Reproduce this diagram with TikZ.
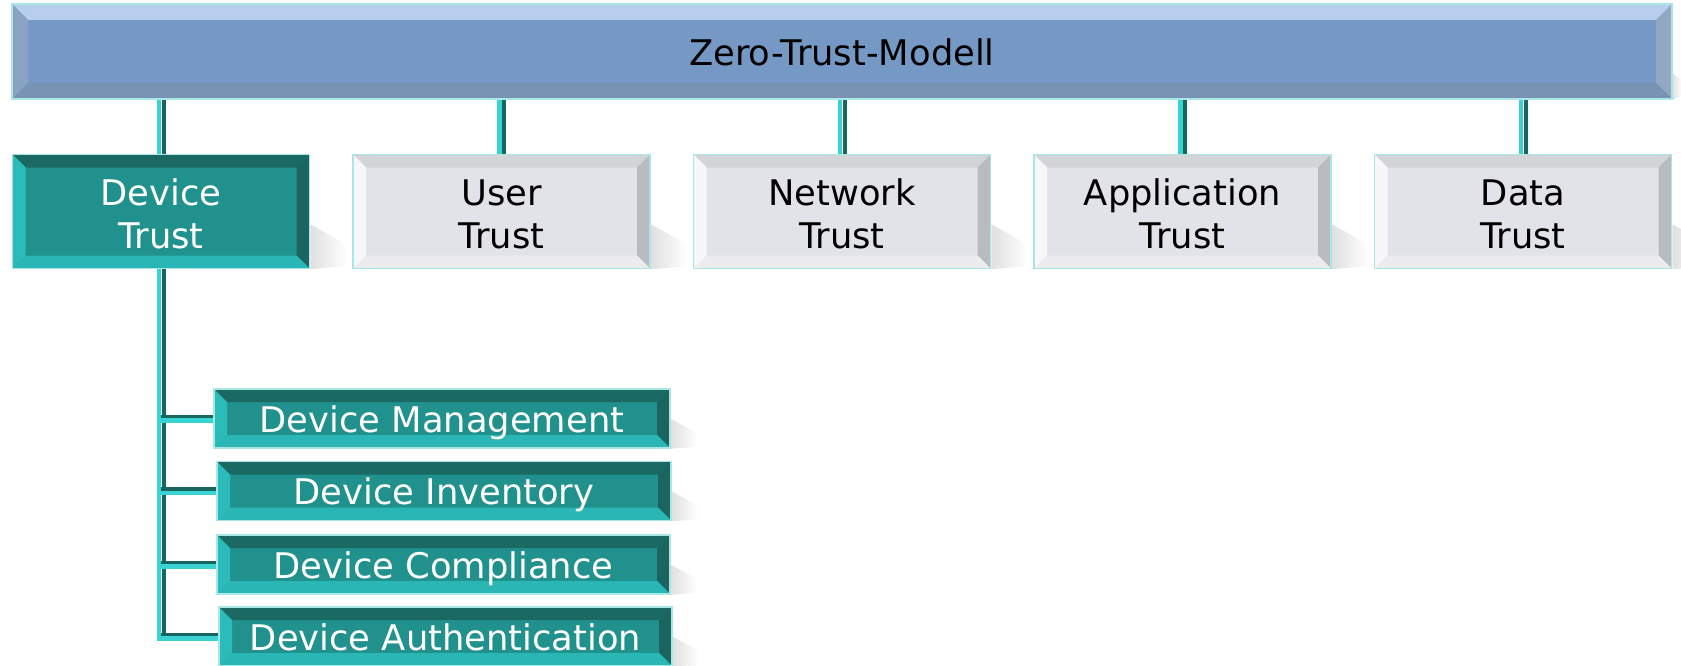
\documentclass[tikz,border=0pt]{standalone}
\usepackage{fontspec}
\setmainfont{DejaVu Sans}
\usetikzlibrary{fadings}
\definecolor{barFace}{HTML}{7599C4}
\definecolor{barTop}{HTML}{B7CFEC}
\definecolor{barLeft}{HTML}{8AA3C2}
\definecolor{barBot}{HTML}{7893B4}
\definecolor{barRight}{HTML}{92A7C0}
\definecolor{tealFace}{HTML}{21918E}
\definecolor{tealTop}{HTML}{1A6962}
\definecolor{tealLeft}{HTML}{2BBCBA}
\definecolor{tealBot}{HTML}{2AB6B4}
\definecolor{tealRight}{HTML}{1A655F}
\definecolor{grayFace}{HTML}{E2E3E8}
\definecolor{grayTop}{HTML}{D3D4D8}
\definecolor{grayLeft}{HTML}{F7F7F9}
\definecolor{grayBot}{HTML}{ECECEF}
\definecolor{grayRight}{HTML}{BABBBF}
\definecolor{rim}{HTML}{A9E6E6}
\definecolor{pipeL}{HTML}{3AD3D3}
\definecolor{pipeD}{HTML}{176660}
\pgfdeclarelayer{bg}
\pgfsetlayers{bg,main}
\newcommand{\twolines}[2]{\raisebox{6.5pt}[0pt][0pt]{\begin{tabular}[t]{@{}c@{}}#1\\#2\end{tabular}}}
\begin{document}
\begin{tikzpicture}[x=1pt,y=-1pt,
 bevel/.style n args={5}{path picture={
   \path (path picture bounding box.north west) coordinate (q1)
         (path picture bounding box.north east) coordinate (q2)
         (path picture bounding box.south east) coordinate (q3)
         (path picture bounding box.south west) coordinate (q4);
   \fill[#2] (q1) -- (q2) -- ([shift={(-#1,-#1)}]q2) -- ([shift={(#1,-#1)}]q1) -- cycle;
   \fill[#5] (q2) -- (q3) -- ([shift={(-#1,#1)}]q3) -- ([shift={(-#1,-#1)}]q2) -- cycle;
   \fill[#4] (q3) -- (q4) -- ([shift={(#1,#1)}]q4) -- ([shift={(-#1,#1)}]q3) -- cycle;
   \fill[#3] (q4) -- (q1) -- ([shift={(#1,-#1)}]q1) -- ([shift={(#1,#1)}]q4) -- cycle;
 }},
 box/.style={draw=rim, line width=1.5pt, inner sep=0pt,
   font=\fontsize{35.3}{43}\selectfont},
 barbox/.style={box, fill=barFace, text=black, minimum width=1660pt, minimum height=95pt,
   text height=36pt, text depth=7pt,
   bevel={16pt}{barTop}{barLeft}{barBot}{barRight}},
 tealbox/.style={box, fill=tealFace, text=white,
   bevel={13pt}{tealTop}{tealLeft}{tealBot}{tealRight}},
 graybox/.style={box, fill=grayFace, text=black,
   bevel={13pt}{grayTop}{grayLeft}{grayBot}{grayRight}},
 tier/.style={minimum width=297pt, minimum height=114pt},
 leaf/.style={minimum height=59pt, text height=34pt, text depth=7pt},
 shad/.style={fill=black!40, path fading=east, opacity=0.3},
 pL/.style={draw=pipeL, line width=4.5pt},
 pD/.style={draw=pipeD, line width=4pt},
]
\useasboundingbox (0,0) rectangle (1681,666);

\node[barbox] (zt) at (842,51.5) {Zero-Trust-Modell};

\node[tealbox, tier] (dt) at (161,211.5) {\twolines{Device}{Trust}};
\node[graybox, tier] (ut) at (501.5,211.5) {\twolines{User}{Trust}};
\node[graybox, tier] (nt) at (842,211.5) {\twolines{Network}{Trust}};
\node[graybox, tier] (at) at (1182.5,211.5) {\twolines{Application}{Trust}};
\node[graybox, tier] (dat) at (1523,211.5) {\twolines{Data}{Trust}};

\node[tealbox, leaf, minimum width=456pt] (dm) at (442,418.5) {Device Management};
\node[tealbox, leaf, minimum width=454pt] (di) at (444,491) {Device Inventory};
\node[tealbox, leaf, minimum width=453pt] (dc) at (443.5,564.5) {Device Compliance};
\node[tealbox, leaf, minimum width=453pt] (da) at (445.5,636.5) {Device Authentication};

\begin{pgfonlayer}{bg}
  \fill[white] (0,0) rectangle (1681,666);
  \foreach \n in {dt,ut,nt,at,dat}{
    \fill[shad] ([yshift=45pt]\n.south east) -- ++(36,20) -- ++(0,22) -- (\n.south east) -- cycle;
  }
  \foreach \n in {dm,di,dc,da}{
    \fill[shad] ([yshift=30pt]\n.south east) -- ++(26,14) -- ++(0,14) -- (\n.south east) -- cycle;
  }
  \fill[shad] ([yshift=26pt]zt.south east) -- ++(9,6) -- ++(0,16) -- (zt.south east) -- cycle;
  % connectors from the bar
  \foreach \n in {dt,ut,nt,at,dat}{
    \draw[pL, transform canvas={xshift=-2pt}] (zt.south -| \n.north) -- (\n.north);
    \draw[pD, transform canvas={xshift=2.5pt}] (zt.south -| \n.north) -- (\n.north);
  }
  % trunk below Device Trust
  \coordinate (tb) at ([yshift=-1pt]dt.south |- da.west);
  \draw[pL, transform canvas={xshift=-2pt}] (dt.south) -- (tb);
  \draw[pD, transform canvas={xshift=2.5pt}] (dt.south) -- (tb);
  \foreach \n in {dm,di,dc,da}{
    \draw[pD, transform canvas={yshift=2pt}] (dt.south |- \n.west) -- (\n.west);
    \draw[pL, transform canvas={yshift=-2pt}] ([xshift=-4pt]dt.south |- \n.west) -- (\n.west);
  }
\end{pgfonlayer}
\end{tikzpicture}
\end{document}
